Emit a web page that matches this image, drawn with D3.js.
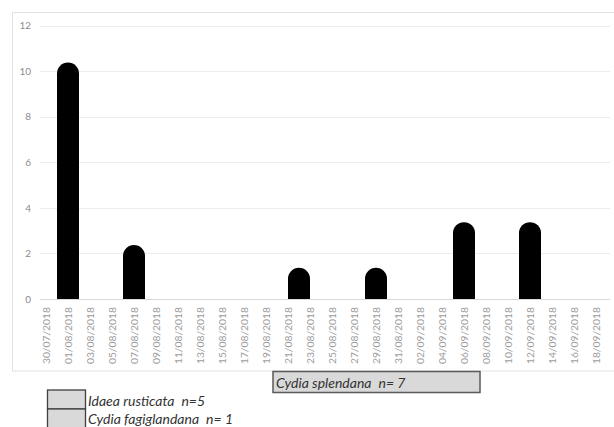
<!DOCTYPE html>
<html>
<head>
<meta charset="utf-8">
<script src="https://cdn.jsdelivr.net/npm/d3@7"></script>
<style>
  html, body { margin: 0; padding: 0; background: #fff; }
  svg { display: block; }
</style>
</head>
<body>
<svg id="chart" width="614" height="427"></svg>
<script>
// Trap catches by date (one bar per emptying date)
const catchDates = ["01/08/2018", "07/08/2018", "22/08/2018", "29/08/2018", "06/09/2018", "12/09/2018"];
const catchCounts = [10, 2, 1, 1, 3, 3];

// Labelled dates along the time axis (every second day)
const tickLabels = [
  "30/07/2018", "01/08/2018", "03/08/2018", "05/08/2018", "07/08/2018", "09/08/2018",
  "11/08/2018", "13/08/2018", "15/08/2018", "17/08/2018", "19/08/2018", "21/08/2018",
  "23/08/2018", "25/08/2018", "27/08/2018", "29/08/2018", "31/08/2018", "02/09/2018",
  "04/09/2018", "06/09/2018", "08/09/2018", "10/09/2018", "12/09/2018", "14/09/2018",
  "16/09/2018", "18/09/2018"
];
const yTicks = [0, 2, 4, 6, 8, 10, 12];

// Species boxes shown under the chart
const speciesNames = ["Cydia splendana", "Idaea rusticata", "Cydia fagiglandana"];
const speciesN = ["n= 7", "n=5", "n= 1"];

const parse = d3.timeParse("%d/%m/%Y");
const fmt = d3.timeFormat("%d/%m/%Y");
const svg = d3.select("#chart");

const first = parse(tickLabels[0]);
const last = parse(tickLabels[tickLabels.length - 1]);
const halfDay = 12 * 3600 * 1000;

const x = d3.scaleTime()
  .domain([new Date(+first - halfDay), new Date(+last + halfDay)])
  .range([40.5, 601.5]);
const y = d3.scaleLinear().domain([0, 12]).range([299, 25.5]);

// Outer chart frame (right side runs past the page edge)
svg.append("rect")
  .attr("x", 12.5).attr("y", 12.5)
  .attr("width", 610).attr("height", 358.5)
  .attr("fill", "none").attr("stroke", "#e2e2e2").attr("stroke-width", 1);

// Horizontal gridlines
svg.append("g")
  .selectAll("line")
  .data(yTicks)
  .join("line")
  .attr("x1", 40).attr("x2", 610)
  .attr("y1", d => Math.round(y(d)) + 0.5)
  .attr("y2", d => Math.round(y(d)) + 0.5)
  .attr("stroke", d => d === 0 ? "#d9d9d9" : "#ececec")
  .attr("stroke-width", 1);

// Y axis labels
const yAxis = svg.append("g")
  .attr("transform", "translate(36,0)")
  .call(d3.axisLeft(y).tickValues(yTicks).tickSize(0).tickPadding(5));
yAxis.select(".domain").remove();
yAxis.selectAll("text")
  .attr("fill", "#8c8c8c")
  .style("font-family", "Lato, 'Open Sans', sans-serif")
  .style("font-size", "10px");

// X axis: rotated date labels
const xAxis = svg.append("g")
  .attr("transform", `translate(0,${y(0)})`)
  .call(d3.axisBottom(x)
    .tickValues(tickLabels.map(parse))
    .tickFormat(fmt)
    .tickSize(0));
xAxis.select(".domain").remove();
xAxis.selectAll("text")
  .attr("transform", "rotate(-90)")
  .attr("text-anchor", "end")
  .attr("x", -8)
  .attr("y", 0)
  .attr("dy", "0.35em")
  .attr("fill", "#9c9c9c")
  .style("font-family", "Lato, 'Open Sans', sans-serif")
  .style("font-size", "10.3px");

// Rounded-top columns, two days wide
const dayPx = x(parse("02/08/2018")) - x(parse("01/08/2018"));
const barW = dayPx * 2;
const capLift = 8.5;
function barPath(date, v) {
  const cx = x(parse(date));
  const r = barW / 2;
  const top = y(v) - capLift;
  const base = y(0);
  return `M${cx - r},${base} L${cx - r},${top + r} A${r},${r} 0 0 1 ${cx + r},${top + r} L${cx + r},${base} Z`;
}
svg.append("g")
  .selectAll("path")
  .data(catchDates.map((d, i) => ({ date: d, v: catchCounts[i] })))
  .join("path")
  .attr("d", d => barPath(d.date, d.v))
  .attr("fill", "#000");

// Species boxes
const legFont = "Lato, 'Open Sans', sans-serif";
function speciesLabel(g, name, n, tx, ty) {
  const t = g.append("text")
    .attr("x", tx).attr("y", ty)
    .attr("fill", "#333")
    .style("font-family", legFont)
    .style("font-size", "14px")
    .style("font-style", "italic");
  t.append("tspan").text(name);
  t.append("tspan").attr("dx", 7).text(n);
}

const leg = svg.append("g");
leg.append("rect")
  .attr("x", 273).attr("y", 371.5).attr("width", 207).attr("height", 21)
  .attr("fill", "#d9d9d9").attr("stroke", "#5a5a5a").attr("stroke-width", 1.5);
speciesLabel(leg, speciesNames[0], speciesN[0], 276, 387.5);

[0, 1].forEach(i => {
  leg.append("rect")
    .attr("x", 47.5).attr("y", 390 + i * 19).attr("width", 38).attr("height", 19)
    .attr("fill", "#d9d9d9").attr("stroke", "#3f3f3f").attr("stroke-width", 1.3);
});
speciesLabel(leg, speciesNames[1], speciesN[1], 88, 405.5);
speciesLabel(leg, speciesNames[2], speciesN[2], 88, 423.5);
</script>
</body>
</html>
